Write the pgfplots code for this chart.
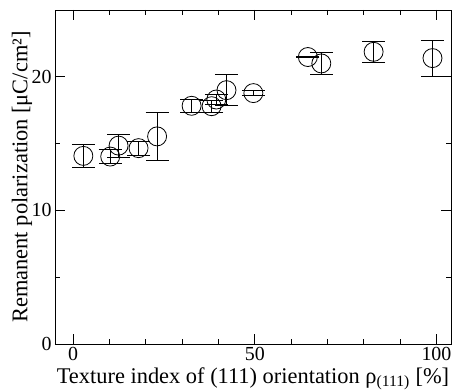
\documentclass[border=0pt]{standalone}
\usepackage{pgfplots}
\pgfplotsset{compat=1.18}
\usepackage{fontspec}
\setmainfont{Liberation Serif}

% Remanent polarization vs (111) texture index, with y error bars
\pgfplotstableread{
x     y      e
2.8   14.08  0.84
10.2  14.03  0.51
12.5  14.85  0.87
18.0  14.66  0.52
23.1  15.54  1.77
32.6  17.83  0.50
38.1  17.80  0.45
39.4  18.30  0.40
42.2  19.00  1.16
49.6  18.78  0.20
64.6  21.48  0.02
68.3  21.00  0.84
82.7  21.87  0.77
98.9  21.40  1.35
}\pr

\begin{document}
\begin{tikzpicture}
\path[use as bounding box] (-55bp,-46bp) rectangle (397bp,344bp);
\begin{axis}[
  at={(0,0)}, anchor=south west,
  scale only axis,
  width=396bp, height=334bp,
  xmin=-5, xmax=104, ymin=0, ymax=25,
  xtick={0,50,100}, ytick={0,10,20},
  minor x tick num=4, minor y tick num=1,
  tick align=inside,
  major tick length=10bp, minor tick length=5bp,
  axis line style={line width=0.8bp},
  every tick/.style={black, line width=0.8bp},
  /pgf/number format/assume math mode=true,
  tick label style={font=\fontsize{20}{24}\selectfont},
  label style={font=\fontsize{22.5}{26}\selectfont},
  xlabel={Texture index of (111) orientation ρ\textsubscript{(111)} [\%]},
  ylabel={Remanent polarization [μC/cm²]},
  xlabel style={at={(axis description cs:0.5,-0.1168)}, anchor=base},
  ylabel style={at={(axis description cs:-0.0833,0.5)}, anchor=center},
  clip=false,
]
\addplot[
  only marks, black,
  mark=o, mark size=9.5bp,
  mark options={line width=0.8bp},
  error bars/.cd,
    y dir=both, y explicit,
    error bar style={line width=0.8bp},
    error mark options={line width=0.8bp, mark size=11.5bp, rotate=90},
] table[x=x, y=y, y error=e] {\pr};
\end{axis}
\end{tikzpicture}
\end{document}
